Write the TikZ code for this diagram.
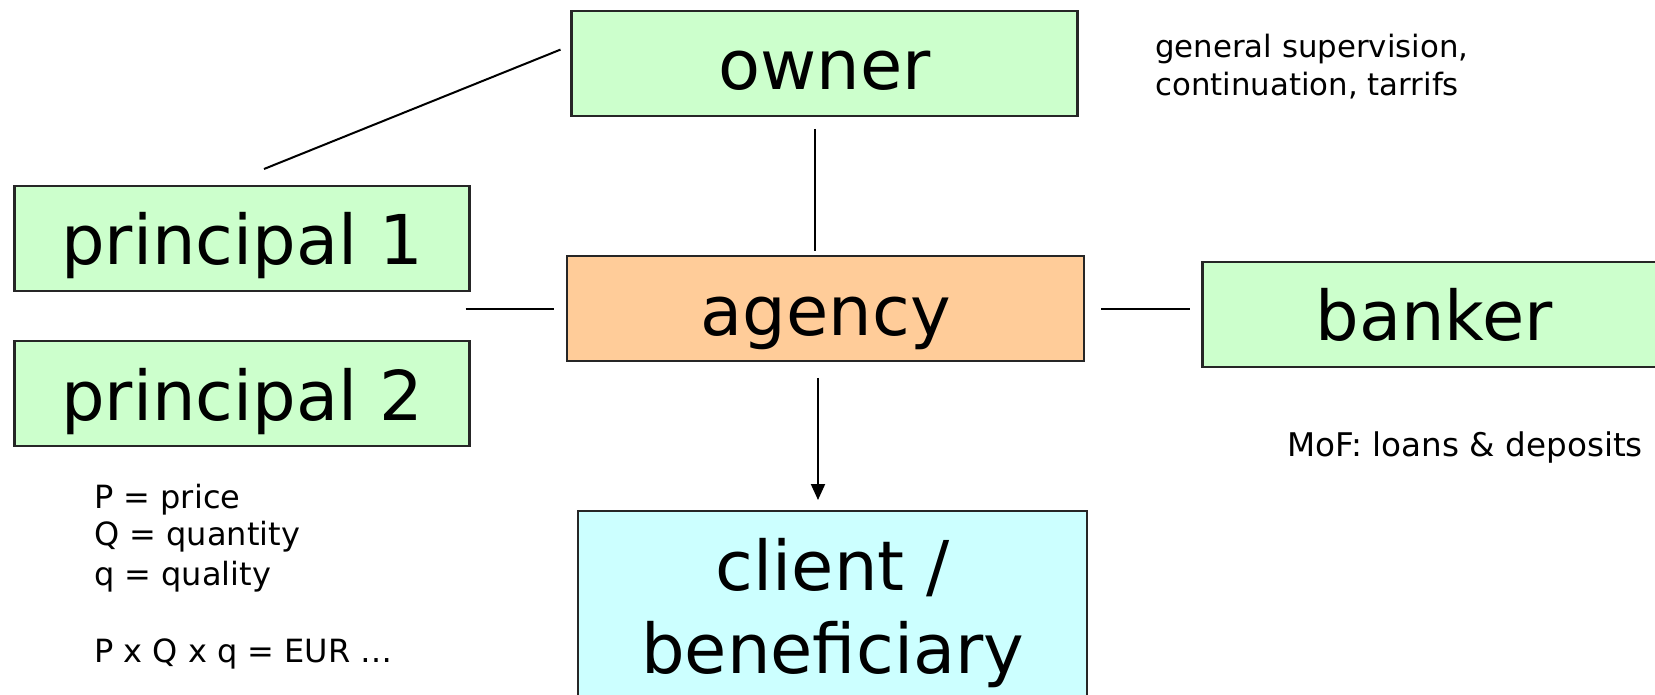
\documentclass[tikz,border=0pt]{standalone}
\usepackage{fontspec}
\setmainfont{DejaVu Sans}
\usetikzlibrary{arrows.meta}
\definecolor{boxgreen}{HTML}{CCFFCC}
\definecolor{boxorange}{HTML}{FFCC99}
\definecolor{boxcyan}{HTML}{CCFFFF}
\begin{document}
\begin{tikzpicture}[x=1pt,y=-1pt,
  bigbox/.style={draw=black!85, line width=2.2pt, inner sep=0pt,
    font=\fontsize{68.7}{83}\selectfont, text height=58pt, text depth=4.6pt},
  smalltext/.style={font=\fontsize{32}{38}\selectfont, inner sep=0pt, anchor=base west},
  conn/.style={line width=2pt, black}]
\path[use as bounding box] (0,0) rectangle (1655,695);
\clip (0,0) rectangle (1655,695);
% boxes
\node[bigbox, fill=boxgreen, minimum width=506pt, minimum height=105pt] (owner) at (824.5,63.2) {owner};
\node[bigbox, fill=boxorange, minimum width=517pt, minimum height=105pt] (agency) at (825.7,308.5) {agency};
\node[bigbox, fill=boxgreen, minimum width=455pt, minimum height=105pt] (p1) at (242,238.3) {principal 1};
\node[bigbox, fill=boxgreen, minimum width=455pt, minimum height=105pt] (p2) at (242,393.8) {principal 2};
\node[bigbox, fill=boxgreen, minimum width=463pt, minimum height=105pt] (banker) at (1434,314.2) {banker};
\node[draw=black!85, line width=2.2pt, inner sep=0pt, fill=boxcyan, align=center,
  font=\fontsize{68.7}{83}\selectfont, minimum width=509pt, minimum height=205pt] (client) at (832.7,613.2) {client /\\beneficiary};
% annotations
\node[smalltext, font=\fontsize{30.8}{36}\selectfont] (gs1) at (1155,57.5) {general supervision,};
\node[smalltext, font=\fontsize{30.8}{36}\selectfont] (gs2) at (1155,96) {continuation, tarrifs};
\node[smalltext, font=\fontsize{32.6}{38}\selectfont] (mof) at (1287,456) {MoF: loans \& deposits};
\node[smalltext] (t1) at (94,508) {P = price};
\node[smalltext] (t2) at (94,545.5) {Q = quantity};
\node[smalltext] (t3) at (94,585) {q = quality};
\node[smalltext] (t4) at (94,662) {P x Q x q = EUR …};
% connector end points
\coordinate (dA) at (264,169);
\coordinate (dB) at (560.5,49.6);
\coordinate (vA) at (815,128.8);
\coordinate (vB) at (815,250.7);
\coordinate (lA) at (465.5,309.3);
\coordinate (lB) at (554,309.3);
\coordinate (rA) at (1101,309.3);
\coordinate (rB) at (1189.6,309.3);
\coordinate (aA) at (818,377.9);
\coordinate (aB) at (818,500);
\draw[conn] (dA) -- (dB);
\draw[conn] (vA) -- (vB);
\draw[conn] (lA) -- (lB);
\draw[conn] (rA) -- (rB);
\draw[conn, -{Triangle[length=16pt,width=14pt]}] (aA) -- (aB);
\end{tikzpicture}
\end{document}
